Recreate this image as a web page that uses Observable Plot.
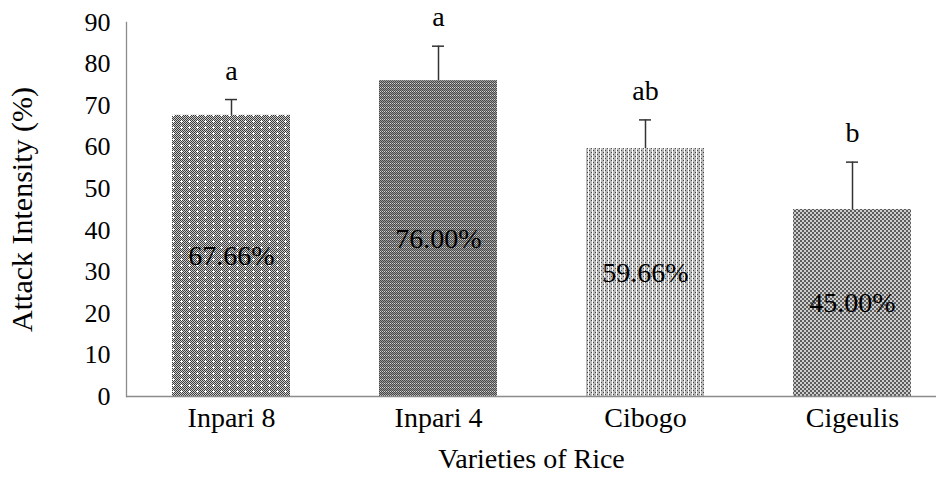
<!DOCTYPE html>
<html>
<head>
<meta charset="utf-8">
<script src="https://cdn.jsdelivr.net/npm/d3@7"></script>
<script src="https://cdn.jsdelivr.net/npm/@observablehq/plot@0.6"></script>
<style>
  html, body { margin: 0; padding: 0; background: #fff; }
  #chart svg, #chart svg text { font-family: "Liberation Serif", "DejaVu Serif", "Times New Roman", serif !important; }
</style>
</head>
<body>
<div id="chart"></div>
<script>
// ---- data ----
const categories = ["Inpari 8", "Inpari 4", "Cibogo", "Cigeulis"];
const values = [67.66, 76.00, 59.66, 45.00];
const errors = [3.8, 8.3, 6.9, 11.4];
const letters = ["a", "a", "ab", "b"];
const yTicks = [0, 10, 20, 30, 40, 50, 60, 70, 80, 90];
const yTitle = "Attack Intensity (%)";
const xTitle = "Varieties of Rice";

const data = categories.map((c, i) => ({ c, v: values[i], e: errors[i], l: letters[i] }));

// ---- fill patterns (styling) ----
const patternDefs = [
  { id: "pat0", rows: ["#.#.#o#.", ".#.#ooo#", "#.#.#o#.", ".#.#.#.#", "#.#.#.#.", ".#.#.#.#"], colors: { "#": "#3c3c3c", ".": "#cccccc", "o": "#ffffff", "+": "#8a8a8a" } },
  { id: "pat1", rows: ["#+#+", "+#+#", "#+#+", ".#.#"], colors: { "#": "#474747", ".": "#d6d6d6", "+": "#9a9a9a", "o": "#fff" } },
  { id: "pat2", rows: ["o++#", "o+++", "o#++", "o+++"], colors: { "#": "#424242", ".": "#cfcfcf", "+": "#b8b8b8", "o": "#ffffff" } },
  { id: "pat3", rows: ["##..", "##..", "..##", "..##"], colors: { "#": "#5c5c5c", ".": "#cecece", "+": "#8a8a8a", "o": "#fff" } }
];

const serif = "'Liberation Serif', 'DejaVu Serif', serif";

const chart = Plot.plot({
  width: 942,
  height: 485,
  marginLeft: 126,
  marginRight: 6,
  marginTop: 22,
  marginBottom: 89,
  style: { fontFamily: serif, fontSize: "26px", color: "#000", background: "#fff" },
  x: { domain: categories, range: [126, 956], paddingInner: 0.43, paddingOuter: 0.215 },
  y: { domain: [0, 90] },
  color: { domain: categories, range: patternDefs.map(p => `url(#${p.id})`) },
  marks: [
    Plot.barY(data, { x: "c", y: "v", fill: "c" }),
    Plot.ruleX(data, { x: "c", y1: "v", y2: d => d.v + d.e, stroke: "#333", strokeWidth: 1.5 }),
    Plot.tickY(data, { x: "c", y: d => d.v + d.e, stroke: "#333", strokeWidth: 1.5, insetLeft: 53, insetRight: 53 }),
    Plot.text(data, { x: "c", y: d => d.v + d.e, text: "l", dy: -29, fontSize: 28, fill: "#000" }),
    Plot.text(data, { x: "c", y: d => d.v / 2, text: d => d.v.toFixed(2) + "%", fontSize: 28, fill: "#000" }),
    Plot.ruleY([0], { stroke: "#8c8c8c", strokeWidth: 1.3 }),
    Plot.frame({ anchor: "left", stroke: "#8c8c8c", strokeWidth: 1.3 }),
    Plot.axisY({ ticks: yTicks, tickSize: 0, tickPadding: 16, label: null, fontSize: 26 }),
    Plot.axisX({ tickSize: 0, tickPadding: 11, label: null, fontSize: 28 }),
    Plot.text([yTitle], { frameAnchor: "left", textAnchor: "middle", rotate: -90, dx: -104, fontSize: 30, fill: "#000" }),
    Plot.text([xTitle], { frameAnchor: "bottom", dy: 71, fontSize: 28, fill: "#000" })
  ]
});

// insert pattern definitions
const ns = "http://www.w3.org/2000/svg";
const defs = document.createElementNS(ns, "defs");
for (const p of patternDefs) {
  const pat = document.createElementNS(ns, "pattern");
  const w = p.rows[0].length, h = p.rows.length;
  pat.setAttribute("id", p.id);
  pat.setAttribute("patternUnits", "userSpaceOnUse");
  pat.setAttribute("width", w);
  pat.setAttribute("height", h);
  pat.setAttribute("shape-rendering", "crispEdges");
  p.rows.forEach((row, y) => {
    [...row].forEach((ch, x) => {
      const r = document.createElementNS(ns, "rect");
      r.setAttribute("x", x); r.setAttribute("y", y);
      r.setAttribute("width", 1); r.setAttribute("height", 1);
      r.setAttribute("fill", p.colors[ch]);
      pat.appendChild(r);
    });
  });
  defs.appendChild(pat);
}
chart.insertBefore(defs, chart.firstChild);
document.getElementById("chart").appendChild(chart);
</script>
</body>
</html>
